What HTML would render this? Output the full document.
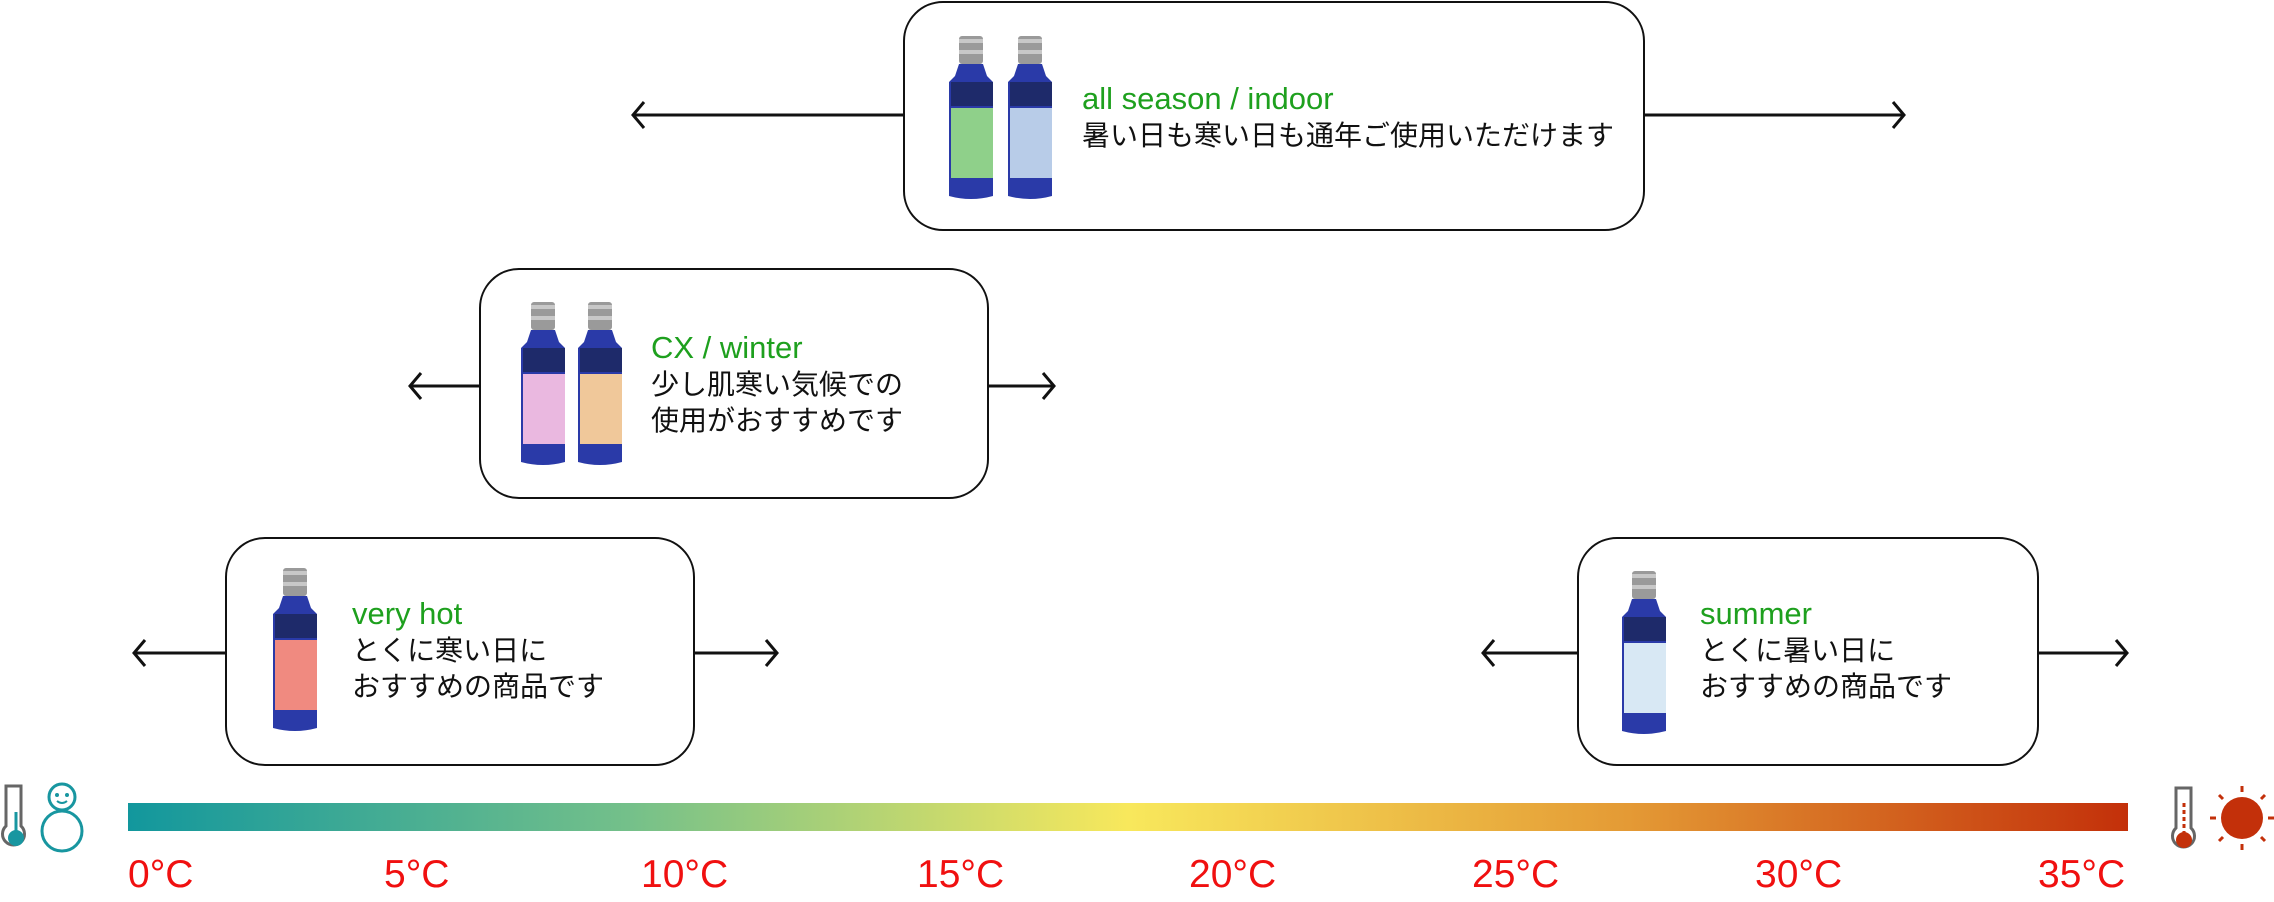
<!DOCTYPE html>
<html><head><meta charset="utf-8"><style>
body{margin:0;width:2274px;height:902px;background:#fff;position:relative;overflow:hidden;font-family:"Liberation Sans","Noto Sans CJK JP",sans-serif}
.box{position:absolute;border:2.5px solid #111;border-radius:40px;background:#fff;box-sizing:border-box}
.t{position:absolute;font-size:28px;line-height:36px;color:#111;white-space:nowrap}
.t .g{color:#1ea01e;font-size:31px}
.lab{position:absolute;top:853px;font-size:39px;color:#f01010}
svg{position:absolute;left:0;top:0}
</style></head><body>
<svg width="2274" height="902">
<defs>
<marker id="a" markerWidth="16" markerHeight="30" refX="13" refY="15" orient="auto" markerUnits="userSpaceOnUse"><path d="M2,2 L13,15 L2,28" fill="none" stroke="#111" stroke-width="3"/></marker>
<linearGradient id="gr" x1="0" x2="1"><stop offset="0" stop-color="#12979d"/><stop offset="0.25" stop-color="#74c08a"/><stop offset="0.5" stop-color="#f8e85c"/><stop offset="0.75" stop-color="#e49a35"/><stop offset="1" stop-color="#c3300a"/></linearGradient>
<g id="bottle"><rect x="12" y="0" width="24" height="28" rx="3" fill="#9a9a9a"/><rect x="12" y="3" width="24" height="4" fill="#c8c8c8"/><rect x="12" y="14" width="24" height="4" fill="#c8c8c8"/><path d="M12,28 L36,28 L40,40 L46,46 L46,160 Q24,166 2,160 L2,46 L8,40 Z" fill="#2a3aa8"/><rect x="4" y="46" width="42" height="24" fill="#1e2a6a"/></g>
</defs>
<g stroke="#111" stroke-width="3" fill="none">
<line x1="903" y1="115" x2="633" y2="115" marker-end="url(#a)"/><line x1="1645" y1="115" x2="1904" y2="115" marker-end="url(#a)"/>
<line x1="479" y1="386" x2="410" y2="386" marker-end="url(#a)"/><line x1="989" y1="386" x2="1054" y2="386" marker-end="url(#a)"/>
<line x1="225" y1="653" x2="134" y2="653" marker-end="url(#a)"/><line x1="695" y1="653" x2="777" y2="653" marker-end="url(#a)"/>
<line x1="1577" y1="653" x2="1483" y2="653" marker-end="url(#a)"/><line x1="2039" y1="653" x2="2127" y2="653" marker-end="url(#a)"/>
</g>
<rect x="128" y="803" width="2000" height="28" fill="url(#gr)"/>
<path d="M6,786 h15 v40 a11,11 0 1 1 -15,0 Z" fill="none" stroke="#666" stroke-width="3"/><circle cx="16" cy="838" r="8" fill="#1896a0"/><line x1="16" y1="812" x2="16" y2="832" stroke="#1896a0" stroke-width="3"/>
<circle cx="62" cy="797" r="13" fill="none" stroke="#1896a0" stroke-width="3"/><circle cx="62" cy="831" r="20" fill="none" stroke="#1896a0" stroke-width="3"/><circle cx="57" cy="795" r="2" fill="#1896a0"/><circle cx="67" cy="795" r="2" fill="#1896a0"/><path d="M57,801 q5,4 10,0" stroke="#1896a0" stroke-width="2" fill="none"/>
<path d="M2176,788 h15 v40 a11,11 0 1 1 -15,0 Z" fill="none" stroke="#666" stroke-width="3"/><circle cx="2184" cy="840" r="8" fill="#c3300a"/><line x1="2184" y1="803" x2="2184" y2="834" stroke="#c3300a" stroke-width="3" stroke-dasharray="4,3"/>
<circle cx="2242" cy="818" r="21" fill="#c3300a"/>
<g stroke="#c3300a" stroke-width="3"><line x1="2242" y1="786" x2="2242" y2="792"/><line x1="2242" y1="844" x2="2242" y2="850"/><line x1="2210" y1="818" x2="2216" y2="818"/><line x1="2268" y1="818" x2="2274" y2="818"/><line x1="2219" y1="795" x2="2223" y2="799"/><line x1="2261" y1="837" x2="2265" y2="841"/><line x1="2265" y1="795" x2="2261" y2="799"/><line x1="2219" y1="841" x2="2223" y2="837"/></g>
</svg>
<div class="box" style="left:903px;top:1px;width:742px;height:230px"></div>
<div class="box" style="left:479px;top:268px;width:510px;height:231px"></div>
<div class="box" style="left:225px;top:537px;width:470px;height:229px"></div>
<div class="box" style="left:1577px;top:537px;width:462px;height:229px"></div>
<svg width="2274" height="902">
<g transform="translate(947,36)"><use href="#bottle"/><rect x="4" y="72" width="42" height="70" fill="#8fd08a"/></g>
<g transform="translate(1006,36)"><use href="#bottle"/><rect x="4" y="72" width="42" height="70" fill="#b8cce8"/></g>
<g transform="translate(519,302)"><use href="#bottle"/><rect x="4" y="72" width="42" height="70" fill="#eab8e0"/></g>
<g transform="translate(576,302)"><use href="#bottle"/><rect x="4" y="72" width="42" height="70" fill="#f0c89a"/></g>
<g transform="translate(271,568)"><use href="#bottle"/><rect x="4" y="72" width="42" height="70" fill="#f08a80"/></g>
<g transform="translate(1620,571)"><use href="#bottle"/><rect x="4" y="72" width="42" height="70" fill="#d8e8f4"/></g>
</svg>
<div class="t" style="left:1082px;top:81px"><span class="g">all season / indoor</span><br>暑い日も寒い日も通年ご使用いただけます</div>
<div class="t" style="left:651px;top:330px"><span class="g">CX / winter</span><br>少し肌寒い気候での<br>使用がおすすめです</div>
<div class="t" style="left:352px;top:596px"><span class="g">very hot</span><br>とくに寒い日に<br>おすすめの商品です</div>
<div class="t" style="left:1700px;top:596px"><span class="g">summer</span><br>とくに暑い日に<br>おすすめの商品です</div>
<div class="lab" style="left:128px">0°C</div>
<div class="lab" style="left:384px">5°C</div>
<div class="lab" style="left:641px">10°C</div>
<div class="lab" style="left:917px">15°C</div>
<div class="lab" style="left:1189px">20°C</div>
<div class="lab" style="left:1472px">25°C</div>
<div class="lab" style="left:1755px">30°C</div>
<div class="lab" style="left:2038px">35°C</div>
</body></html>
